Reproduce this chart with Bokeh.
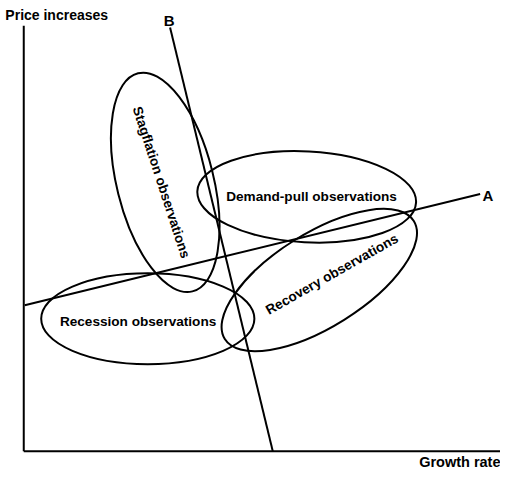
import math
from bokeh.plotting import figure
from bokeh.models import ColumnDataSource
from bokeh.core.properties import value
from bokeh.embed import file_html
from bokeh.resources import INLINE

# Diagram coordinate system: x = growth rate (0..516), y = price increases (0..488, top = 0 in the source drawing)
H = 488

# Observation clusters (ellipses)
ell_names = ["Stagflation", "Demand-pull", "Recovery", "Recession"]
ell_cx = [170, 316, 329, 152]
ell_cy = [188, 203, 289, 329]
ell_major = [232, 226, 230, 220]
ell_minor = [100, 94, 97, 94]
ell_angle = [-76, -3, 32, 0]

# Cluster labels
lab_text = ["Stagflation observations", "Demand-pull observations",
            "Recovery observations", "Recession observations"]
lab_x = [166, 321, 342, 142]
lab_y = [188, 203, 283, 332]
lab_angle = [-72, 0, 29.5, 0]

# Lines A and B
line_names = ["A", "B"]
line_x0 = [25, 175]
line_y0 = [315, 28]
line_x1 = [495, 281]
line_y1 = [200, 466]
line_lab_x = [503, 174]
line_lab_y = [202, 21]

# Axes
axis_origin = (24, 466)
axis_top = 26
axis_right = 516

FONT = value("Liberation Sans")

p = figure(width=500, height=472, x_range=(0, 516), y_range=(0, 488),
           output_backend="svg", toolbar_location=None, min_border=0)
p.axis.visible = False
p.grid.visible = False
p.outline_line_color = None
p.background_fill_color = "white"

# axes
p.segment(x0=[axis_origin[0], axis_origin[0]], y0=[H - axis_origin[1], H - axis_origin[1]],
          x1=[axis_origin[0], axis_right], y1=[H - axis_top, H - axis_origin[1]],
          line_color="black", line_width=2)

# ellipses
es = ColumnDataSource(dict(x=ell_cx, y=[H - v for v in ell_cy], w=ell_major, h=ell_minor,
                           a=[math.radians(v) for v in ell_angle]))
p.ellipse(x="x", y="y", width="w", height="h", angle="a", source=es,
          fill_color=None, line_color="black", line_width=2)

# lines A, B
p.segment(x0=line_x0, y0=[H - v for v in line_y0], x1=line_x1, y1=[H - v for v in line_y1],
          line_color="black", line_width=2)

# labels
ls = ColumnDataSource(dict(x=lab_x, y=[H - v for v in lab_y], t=lab_text,
                           a=[math.radians(v) for v in lab_angle]))
p.text(x="x", y="y", text="t", angle="a", source=ls, text_align="center",
       text_baseline="middle", text_font=FONT, text_font_style="bold",
       text_font_size="13.6px", text_color="black")

p.text(x=line_lab_x, y=[H - v for v in line_lab_y], text=line_names, text_align="center",
       text_baseline="middle", text_font=FONT, text_font_style="bold",
       text_font_size="15px", text_color="black")

p.text(x=[5], y=[H - 15], text=["Price increases"], text_align="left",
       text_baseline="middle", text_font=FONT, text_font_style="bold",
       text_font_size="14px", text_color="black")
p.text(x=[516], y=[H - 477], text=["Growth rate"], text_align="right",
       text_baseline="middle", text_font=FONT, text_font_style="bold",
       text_font_size="14.5px", text_color="black")

open("out.html", "w").write(file_html(p, INLINE))
